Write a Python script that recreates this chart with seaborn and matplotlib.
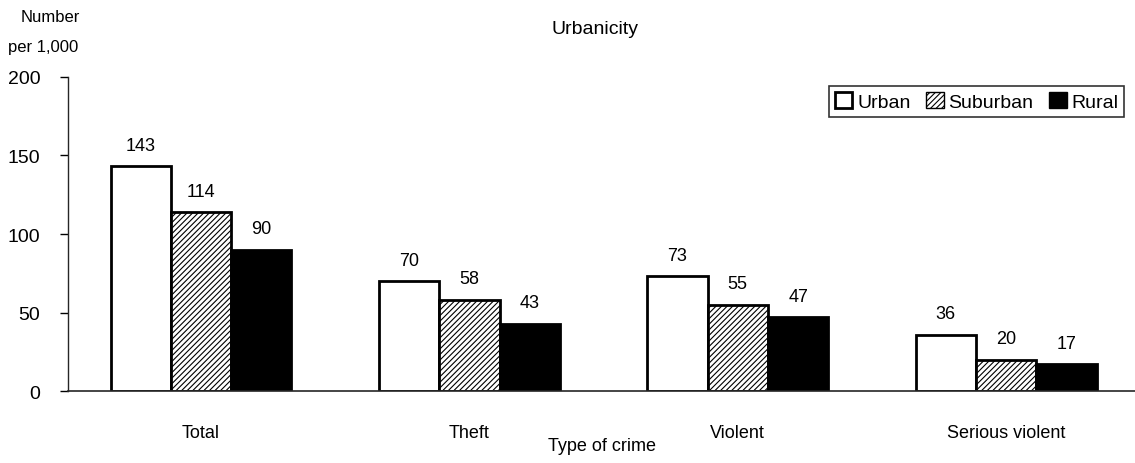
import pandas as pd
import matplotlib.pyplot as plt
import seaborn as sns
from matplotlib.patches import Patch

# Values
crimes = ['Total', 'Theft', 'Violent', 'Serious violent']
areas = ['Urban', 'Suburban', 'Rural']
urban = [143, 70, 73, 36]
suburban = [114, 58, 55, 20]
rural = [90, 43, 47, 17]

df = pd.DataFrame({
    'Crime': crimes * 3,
    'Area': ['Urban'] * 4 + ['Suburban'] * 4 + ['Rural'] * 4,
    'Value': urban + suburban + rural,
})

sns.set_style('white')
plt.rcParams['font.family'] = ['Liberation Sans', 'DejaVu Sans']
plt.rcParams['hatch.linewidth'] = 0.8
plt.rcParams['text.color'] = 'black'
plt.rcParams['xtick.color'] = 'black'
plt.rcParams['ytick.color'] = 'black'
plt.rcParams['axes.labelcolor'] = 'black'

fig = plt.figure(figsize=(11.35, 4.64), dpi=100)
ax = fig.add_axes([0.06, 0.155, 0.94, 0.677])

sns.barplot(data=df, x='Crime', y='Value', hue='Area', hue_order=areas,
            order=crimes, palette=['white', 'white', 'black'],
            width=0.674, gap=0, edgecolor='black', linewidth=2,
            saturation=1, ax=ax, legend=False)

# hatch the suburban bars, label every bar
for cont, name in zip(ax.containers, areas):
    for bar in cont:
        if name == 'Suburban':
            bar.set_hatch('//////')
    ax.bar_label(cont, labels=[f'{v:.0f}' for v in cont.datavalues],
                 padding=9, fontsize=13)

ax.set_ylim(0, 200)
ax.set_xlim(-0.495, 3.48)
ax.set_yticks([0, 50, 100, 150, 200])
ax.tick_params(axis='y', left=True, length=6, width=1, labelsize=14, pad=14)
ax.tick_params(axis='x', bottom=False, labelsize=13, pad=20)
ax.set_ylabel('')
ax.set_xlabel('Type of crime', fontsize=13, labelpad=-3)
for s in ['top', 'right']:
    ax.spines[s].set_visible(False)
ax.spines['left'].set_linewidth(1)
ax.spines['left'].set_linestyle((0, (4, 1)))
ax.spines['bottom'].set_linewidth(1.2)

fig.text(0.524, 0.937, 'Urbanicity', ha='center', va='center', fontsize=14)
fig.text(0.044, 0.962, 'Number', ha='center', va='center', fontsize=12)
fig.text(0.038, 0.898, 'per 1,000', ha='center', va='center', fontsize=12)

# legend
handles = [Patch(facecolor='white', edgecolor='black', linewidth=2),
           Patch(facecolor='white', edgecolor='black', hatch='//////', linewidth=1),
           Patch(facecolor='black', edgecolor='black')]
leg = ax.legend(handles, areas, ncol=3, loc='upper right',
                bbox_to_anchor=(0.99, 0.97), fontsize=14, frameon=True,
                fancybox=False, edgecolor='black', handlelength=0.9,
                handleheight=0.9, handletextpad=0.25, columnspacing=0.8,
                borderpad=0.3, borderaxespad=0)
leg.get_frame().set_linewidth(1.2)

fig.savefig('out.png', dpi=100)
